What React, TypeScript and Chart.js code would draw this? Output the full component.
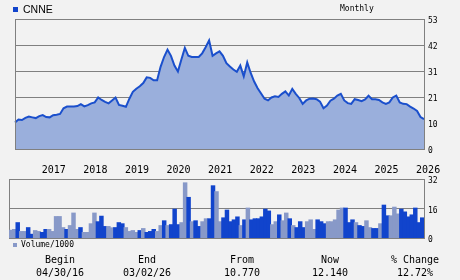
import React, { useEffect, useRef } from 'react';
import { Chart, registerables } from 'chart.js';

Chart.register(...registerables);

// ---- data ----
const ticker = 'CNNE';
const periodLabel = 'Monthly';
const startYear = 2016;
const startMonth = 5; // May 2016

const closePrices: number[] = [
  10.77, 12.0, 11.8, 12.7, 13.2, 12.9, 12.6, 13.4, 13.8, 13.0,
  12.9, 13.8, 14.0, 14.3, 16.6, 17.3, 17.3, 17.3, 17.5, 18.3,
  17.4, 17.9, 18.6, 19.0, 21.0, 20.0, 19.2, 18.6, 19.8, 21.0,
  18.0, 17.6, 17.2, 20.5, 23.3, 24.6, 25.6, 26.9, 29.2, 29.0,
  28.0, 28.0, 33.5, 37.5, 40.5, 38.0, 34.0, 31.6, 36.5, 41.2,
  38.0, 37.5, 37.5, 37.5, 39.0, 41.5, 44.3, 38.0, 39.0, 39.8,
  38.0, 35.0, 33.6, 32.4, 31.5, 34.0, 29.6, 35.3, 31.0, 27.5,
  24.8, 22.6, 20.5, 19.8, 21.0, 21.5, 21.2, 22.5, 23.5, 21.8,
  24.5, 22.5, 20.8, 18.4, 19.8, 20.5, 20.6, 20.3, 19.3, 16.6,
  17.7, 19.7, 20.5, 21.8, 22.5, 19.8, 18.7, 18.4, 20.3, 20.0,
  19.5, 20.2, 21.7, 20.3, 20.3, 20.0, 19.0, 18.4, 19.0, 21.0,
  21.8, 19.0, 18.4, 18.3, 17.3, 16.5, 15.5, 13.0, 12.14,
];

const volumes: number[] = [
  4.2, 4.6, 8.3, 3.5, 3.5, 5.6, 2.0, 4.0, 3.5, 3.0,
  4.6, 4.6, 3.5, 11.6, 11.6, 5.6, 4.6, 6.7, 13.5, 4.6,
  5.6, 3.0, 3.0, 7.7, 13.5, 8.8, 11.8, 6.2, 6.2, 5.5,
  5.6, 8.3, 7.7, 5.6, 3.5, 4.0, 3.0, 4.0, 5.1, 3.0,
  3.5, 4.6, 3.5, 6.7, 9.3, 6.7, 7.2, 15.6, 7.2, 8.3,
  29.9, 22.0, 8.8, 9.3, 6.2, 8.8, 10.4, 10.4, 28.3, 25.1,
  8.8, 10.9, 15.1, 8.8, 9.8, 11.4, 6.7, 9.8, 16.2, 9.8,
  10.4, 10.4, 11.4, 15.6, 14.6, 7.2, 8.8, 12.5, 9.3, 13.5,
  10.4, 6.7, 5.6, 8.8, 5.6, 8.8, 9.8, 4.6, 9.8, 8.8,
  7.7, 8.8, 8.8, 9.8, 15.1, 16.2, 16.2, 8.3, 9.8, 8.3,
  6.7, 6.2, 9.3, 5.6, 5.1, 5.1, 7.7, 17.8, 12.0, 12.0,
  16.7, 13.0, 15.6, 14.1, 11.4, 12.5, 16.2, 8.3, 10.9,
];

// 1 = dark bar, 0 = light bar
const volumeDark: number[] = [
  0, 0, 1, 0, 0, 1, 1, 0, 0, 1,
  1, 0, 0, 0, 0, 0, 1, 0, 0, 0,
  1, 0, 0, 0, 0, 1, 1, 1, 0, 0,
  1, 1, 1, 0, 0, 0, 0, 1, 0, 1,
  1, 1, 0, 0, 1, 0, 1, 1, 1, 0,
  0, 1, 0, 1, 1, 0, 0, 1, 1, 0,
  0, 1, 1, 1, 1, 1, 0, 1, 0, 1,
  1, 1, 1, 1, 1, 0, 0, 1, 0, 0,
  1, 0, 1, 1, 1, 0, 0, 0, 1, 1,
  1, 0, 0, 0, 0, 0, 1, 1, 1, 0,
  1, 1, 0, 0, 1, 1, 0, 1, 1, 0,
  0, 0, 1, 1, 1, 1, 1, 1, 1,
];

const priceTickValues = [0, 10.6, 21.2, 31.8, 42.4, 53];
const priceTickLabels = ['0', '10', '21', '31', '42', '53'];
const volumeTickValues = [0, 16, 32];
const volumeTickLabels = ['0', '16', '32'];

const summaryHeaders = ['Begin', 'End', 'From', 'Now', '% Change'];
const summaryValues = ['04/30/16', '03/02/26', '10.770', '12.140', '12.72%'];
const volumeLegend = 'Volume/1000';

const months: string[] = closePrices.map((_, i) => {
  const m = startMonth - 1 + i;
  const y = startYear + Math.floor(m / 12);
  return `${y}-${String((m % 12) + 1).padStart(2, '0')}`;
});

// ---- styles ----
const BG = '#f2f2f2';
const GRID = '#808080';
const LINE = '#1a4fcc';
const FILL = '#9aafdc';
const DARK = '#1144cc';
const LIGHT = '#8899c8';
const MONO = '"DejaVu Sans Mono", monospace';

function framePlugin(id: string, after: boolean) {
  const draw = (chart: any) => {
    const { ctx, chartArea: a } = chart;
    ctx.save();
    ctx.strokeStyle = GRID;
    ctx.lineWidth = 1;
    ctx.beginPath();
    const l = Math.round(a.left) + 0.5;
    const r = Math.round(a.right) + 0.5;
    const t = Math.round(a.top) + 0.5;
    const b = Math.round(a.bottom) + 0.5;
    ctx.moveTo(l, b);
    ctx.lineTo(l, t);
    ctx.lineTo(r, t);
    ctx.lineTo(r, b);
    if (after) ctx.lineTo(l, b);
    ctx.stroke();
    ctx.restore();
  };
  return after ? { id, afterDatasetsDraw: draw } : { id, beforeDatasetsDraw: draw };
}

export default function App() {
  const priceRef = useRef<HTMLCanvasElement>(null);
  const volRef = useRef<HTMLCanvasElement>(null);

  useEffect(() => {
    const priceChart = new Chart(priceRef.current!, {
      type: 'line',
      data: {
        labels: months,
        datasets: [
          {
            data: closePrices,
            borderColor: LINE,
            borderWidth: 2,
            backgroundColor: FILL,
            fill: 'origin',
            pointRadius: 0,
            tension: 0,
          },
        ],
      },
      options: {
        responsive: false,
        animation: false,
        events: [],
        layout: { padding: { left: 9, top: 19, right: 0, bottom: 0 } },
        plugins: { legend: { display: false }, tooltip: { enabled: false } },
        scales: {
          x: {
            type: 'category',
            offset: false,
            grid: { display: false, drawTicks: false },
            border: { display: false },
            ticks: {
              autoSkip: false,
              maxRotation: 0,
              minRotation: 0,
              align: 'start',
              padding: 15,
              labelOffset: -1,
              color: '#000',
              font: { family: MONO, size: 10 },
              callback: function (this: any, value: any) {
                const lab = this.getLabelForValue(value) as string;
                return lab.endsWith('-01') ? lab.slice(0, 4) : '';
              },
            },
            afterFit: (s: any) => {
              s.height = 31;
            },
          },
          y: {
            position: 'right',
            min: 0,
            max: 53,
            afterBuildTicks: (s: any) => {
              s.ticks = priceTickValues.map((v) => ({ value: v }));
            },
            grid: { color: GRID, lineWidth: 1, drawTicks: false },
            border: { display: true, color: GRID },
            ticks: {
              padding: 4,
              labelOffset: 2,
              color: '#000',
              font: { family: MONO, size: 8 },
              callback: (v: any) => {
                const idx = priceTickValues.indexOf(Number(v));
                return idx >= 0 ? priceTickLabels[idx] : '';
              },
            },
            afterFit: (s: any) => {
              s.width = 36;
            },
          },
        },
      },
      plugins: [framePlugin('priceFrame', true)],
    } as any);

    const volChart = new Chart(volRef.current!, {
      type: 'bar',
      data: {
        labels: months,
        datasets: [
          {
            data: volumes,
            backgroundColor: volumeDark.map((d) => (d ? DARK : LIGHT)),
            borderWidth: 0,
            inflateAmount: 0.5,
            barPercentage: 1,
            categoryPercentage: 1,
          },
        ],
      },
      options: {
        responsive: false,
        animation: false,
        events: [],
        layout: { padding: { left: 9, top: 19, right: 0, bottom: 12 } },
        plugins: { legend: { display: false }, tooltip: { enabled: false } },
        scales: {
          x: { display: false, offset: true },
          y: {
            position: 'right',
            min: 0,
            max: 32,
            afterBuildTicks: (s: any) => {
              s.ticks = volumeTickValues.map((v) => ({ value: v }));
            },
            grid: { color: GRID, lineWidth: 1, drawTicks: false },
            border: { display: true, color: GRID },
            ticks: {
              padding: 4,
              labelOffset: 2,
              color: '#000',
              font: { family: MONO, size: 8 },
              callback: (v: any) => {
                const idx = volumeTickValues.indexOf(Number(v));
                return idx >= 0 ? volumeTickLabels[idx] : '';
              },
            },
            afterFit: (s: any) => {
              s.width = 36;
            },
          },
        },
      },
      plugins: [framePlugin('volFrame', false)],
    } as any);

    return () => {
      priceChart.destroy();
      volChart.destroy();
    };
  }, []);

  const colCenters = [60, 147, 242, 330, 415];

  const abs = (extra: React.CSSProperties): React.CSSProperties => ({
    position: 'absolute',
    whiteSpace: 'nowrap',
    ...extra,
  });

  return (
    <div
      style={{
        position: 'fixed',
        left: 0,
        top: 0,
        width: 460,
        height: 280,
        background: BG,
        overflow: 'hidden',
        color: '#000',
      }}
    >
      <canvas ref={priceRef} width={460} height={180} style={abs({ left: 0, top: 0 })} />
      <canvas ref={volRef} width={460} height={90} style={abs({ left: 0, top: 160 })} />

      <div style={abs({ left: 13, top: 7, width: 5, height: 5, background: DARK })} />
      <div
        style={abs({
          left: 23,
          top: 3,
          fontFamily: '"Liberation Sans Narrow", "Liberation Sans", sans-serif',
          fontSize: 10.5,
          lineHeight: '12px',
        })}
      >
        {ticker}
      </div>
      <div style={abs({ left: 340, top: 4, fontFamily: MONO, fontSize: 8, lineHeight: '10px' })}>
        {periodLabel}
      </div>

      <div style={abs({ left: 13, top: 243, width: 4, height: 4, background: LIGHT })} />
      <div style={abs({ left: 21, top: 240, fontFamily: MONO, fontSize: 8, lineHeight: '10px' })}>
        {volumeLegend}
      </div>

      {summaryHeaders.map((h, i) => (
        <div
          key={'h' + i}
          style={abs({
            left: colCenters[i] - 50,
            width: 100,
            top: 254,
            textAlign: 'center',
            fontFamily: MONO,
            fontSize: 10,
            lineHeight: '12px',
          })}
        >
          {h}
        </div>
      ))}
      {summaryValues.map((v, i) => (
        <div
          key={'v' + i}
          style={abs({
            left: colCenters[i] - 50,
            width: 100,
            top: 267,
            textAlign: 'center',
            fontFamily: MONO,
            fontSize: 10,
            lineHeight: '12px',
          })}
        >
          {v}
        </div>
      ))}
    </div>
  );
}
